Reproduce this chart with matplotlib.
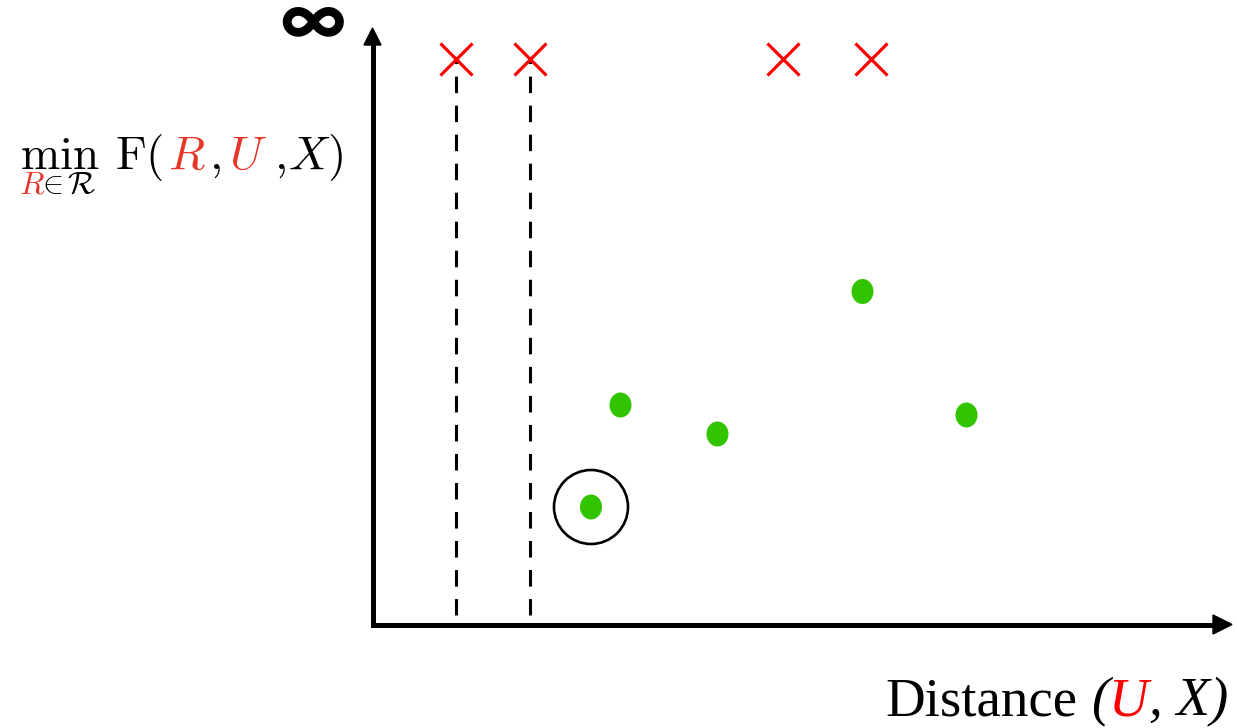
import matplotlib
matplotlib.use("Agg")
import matplotlib.pyplot as plt
from matplotlib.patches import Ellipse, Circle, Polygon

W, H = 1237, 728
plt.rcParams['mathtext.fontset'] = 'cm'
plt.rcParams['lines.scale_dashes'] = False

# Candidate points: distance to (U, X) and objective value
feasible_dist = [218.5, 248, 345, 490, 594]
feasible_obj = [117.5, 219.5, 190.5, 333, 209.5]
best_index = 0
# Candidates whose objective is unbounded (plotted at the infinity level)
infeasible_dist = [83, 157.5, 410, 498.5]
infinity_level = 566
# Infeasible candidates closer than the chosen one get a guide line
guided_dist = [83, 157.5]

GREEN = '#33C400'
RED = '#FF0000'
LATEX_RED = '#E8352A'

fig = plt.figure(figsize=(W / 100, H / 100), dpi=100)
ax = fig.add_axes([0, 0, 1, 1])
ox, oy = 372.5, 624.5
ax.set_xlim(-ox, W - ox)
ax.set_ylim(-(H - oy), oy)
ax.axis('off')


def P(x, y):
    """Convert a position measured from the top-left corner to plot units."""
    return x - ox, oy - y


# axes with arrow heads
x_tip, y_tip = 1232 - ox, oy - 28
ax.plot([0, 0, x_tip - 15], [y_tip - 13, 0, 0], color='k', lw=3.6,
        solid_joinstyle='miter', solid_capstyle='butt', zorder=3)
ax.add_patch(Polygon([(x_tip - 19, 9.5), (x_tip, 0), (x_tip - 19, -9.5)],
                     closed=True, color='k', zorder=3))
ax.add_patch(Polygon([(-8.5, y_tip - 17), (0, y_tip), (8.5, y_tip - 17)],
                     closed=True, color='k', zorder=3))

# dashed guides below the nearby infeasible candidates
for gx in guided_dist:
    ax.plot([gx, gx], [infinity_level, oy - 615], color='k', lw=2.2,
            ls=(8.6, (11.9, 9.0)), dash_capstyle='butt', zorder=2)

# infeasible candidates
ax.plot(infeasible_dist, [infinity_level] * len(infeasible_dist), ls='none',
        marker='x', ms=23, mew=2.3, color=RED, zorder=4)

# feasible candidates
for fx, fy in zip(feasible_dist, feasible_obj):
    ax.add_patch(Ellipse((fx, fy), 22, 25, color=GREEN, lw=0, zorder=4))

# the selected candidate
ax.add_patch(Circle((feasible_dist[best_index], feasible_obj[best_index]), 37,
                    fill=False, ec='k', lw=1.9, zorder=4))

# infinity symbol above the y axis
ax.text(*P(312.5, 42.5), '\u221e', fontsize=49, fontweight='bold',
        family=['Inter', 'DejaVu Sans'], ha='center', va='baseline', color='k')

# y label: min over R of F(R, U, X)
FS = 34
base = 169
for x, s, c in [(20, r'$\min$', 'k'), (115, r'$\mathrm{F}($', 'k'), (168, r'$R$', LATEX_RED),
                (209, r'$,$', 'k'), (229, r'$U$', LATEX_RED), (274, r'$,$', 'k'),
                (288, r'$X)$', 'k')]:
    ax.text(*P(x, base), s, fontsize=FS, color=c, ha='left', va='baseline')
sub_base = 193
for x, s, c in [(19, r'$R$', LATEX_RED), (37, r'$\in$', 'k'), (67, r'$\mathcal{R}$', 'k')]:
    ax.text(*P(x, sub_base), s, fontsize=23, color=c, ha='left', va='baseline')

# x label
xl_base = 715
XFS = 39.5
ax.text(*P(885, xl_base), 'Distance', fontsize=XFS, family='Liberation Serif',
        ha='left', va='baseline', color='k')
for x, s, c in [(1091, '(', 'k'), (1109, 'U', RED), (1149, ', X)', 'k')]:
    ax.text(*P(x, xl_base), s, fontsize=XFS, family='Liberation Serif', style='italic',
            ha='left', va='baseline', color=c)

fig.savefig('out.png', dpi=100, facecolor='white')
